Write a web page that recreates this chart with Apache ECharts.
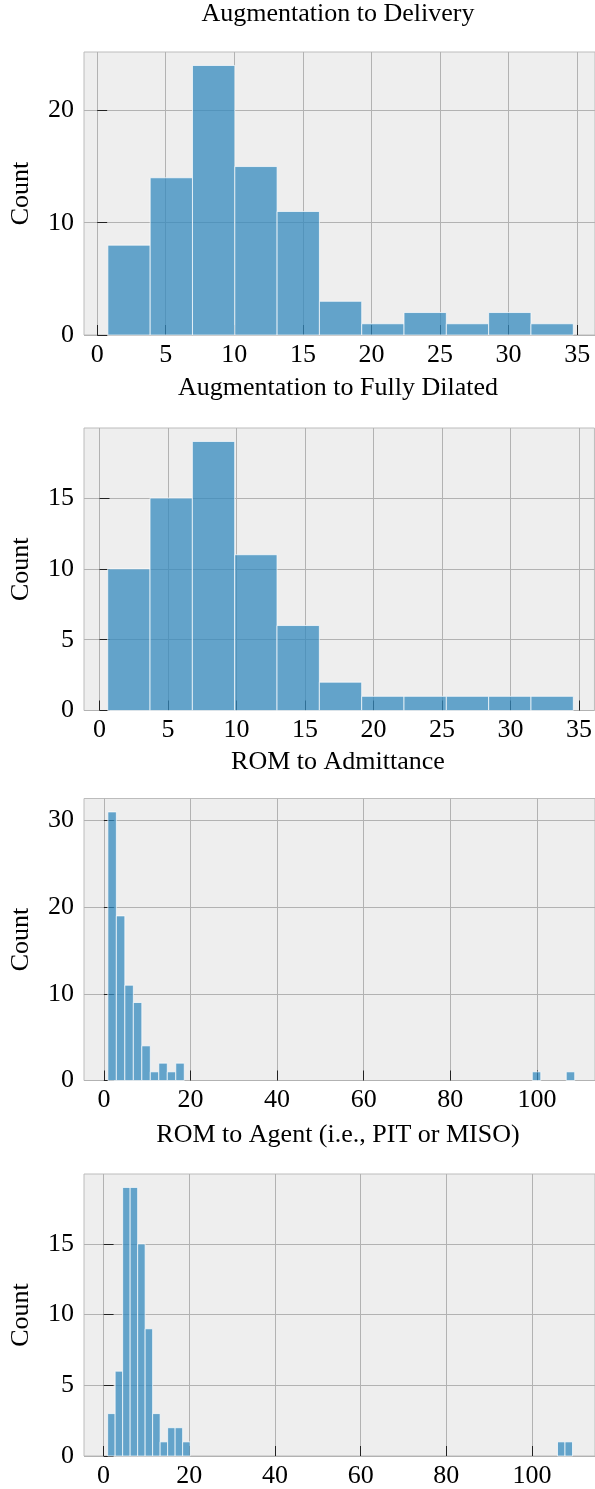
<!DOCTYPE html>
<html>
<head>
<meta charset="utf-8">
<script src="https://cdn.jsdelivr.net/npm/echarts@6/dist/echarts.min.js"></script>
<style>
  html, body { margin: 0; padding: 0; background: #ffffff; }
  #chart { width: 595px; height: 1489px; }
</style>
</head>
<body>
<div id="chart"></div>
<script>
// ---------- data ----------
const panelTitles = [
  "Augmentation to Delivery",
  "Augmentation to Fully Dilated",
  "ROM to Admittance",
  "ROM to Agent (i.e., PIT or MISO)"
];

// Panel 1: Augmentation to Delivery
const p1BinStart = 0.78;
const p1BinWidth = 3.085;
const p1Counts = [8, 14, 24, 15, 11, 3, 1, 2, 1, 2, 1];

// Panel 2: Augmentation to Fully Dilated
const p2BinStart = 0.6;
const p2BinWidth = 3.089;
const p2Counts = [10, 15, 19, 11, 6, 2, 1, 1, 1, 1, 1];

// Panel 3: ROM to Admittance (55 bins)
const p3BinStart = 0.92;
const p3BinWidth = 1.96;
const p3Counts = [31, 19, 11, 9, 4, 1, 2, 1, 2,
  0, 0, 0, 0, 0, 0, 0, 0, 0, 0,
  0, 0, 0, 0, 0, 0, 0, 0, 0, 0,
  0, 0, 0, 0, 0, 0, 0, 0, 0, 0,
  0, 0, 0, 0, 0, 0, 0, 0, 0, 0,
  0,
  1, 0, 0, 0, 1];

// Panel 4: ROM to Agent (62 bins)
const p4BinStart = 0.95;
const p4BinWidth = 1.75;
const p4Counts = [3, 6, 19, 19, 15, 9, 3, 1, 2, 2, 1,
  0, 0, 0, 0, 0, 0, 0, 0, 0, 0,
  0, 0, 0, 0, 0, 0, 0, 0, 0, 0,
  0, 0, 0, 0, 0, 0, 0, 0, 0, 0,
  0, 0, 0, 0, 0, 0, 0, 0, 0, 0,
  0, 0, 0, 0, 0, 0, 0, 0, 0,
  1, 1];

// tick labels
const p1XTicks = [0, 5, 10, 15, 20, 25, 30, 35];
const p2XTicks = [0, 5, 10, 15, 20, 25, 30, 35];
const p3XTicks = [0, 20, 40, 60, 80, 100];
const p4XTicks = [0, 20, 40, 60, 80, 100];
const p1YTicks = [0, 10, 20];
const p2YTicks = [0, 5, 10, 15];
const p3YTicks = [0, 10, 20, 30];
const p4YTicks = [0, 5, 10, 15];

// ---------- layout ----------
const FONT = '"Liberation Serif", "DejaVu Serif", serif';
const FS = 26;
const panels = [
  { starts: p1BinStart, width: p1BinWidth, counts: p1Counts, xTicks: p1XTicks, yTicks: p1YTicks,
    xMin: -0.96, xMax: 36.3, yMax: 25.2, top: 52, height: 283, titleTop: 1 },
  { starts: p2BinStart, width: p2BinWidth, counts: p2Counts, xTicks: p2XTicks, yTicks: p2YTicks,
    xMin: -1.13, xMax: 36.12, yMax: 19.95, top: 428, height: 282.5, titleTop: 375 },
  { starts: p3BinStart, width: p3BinWidth, counts: p3Counts, xTicks: p3XTicks, yTicks: p3YTicks,
    xMin: -4.59, xMax: 113.4, yMax: 32.55, top: 798.5, height: 282, titleTop: 749 },
  { starts: p4BinStart, width: p4BinWidth, counts: p4Counts, xTicks: p4XTicks, yTicks: p4YTicks,
    xMin: -4.57, xMax: 114.7, yMax: 19.95, top: 1174, height: 282, titleTop: 1122 }
];
const GRID_LEFT = 81;
const GRID_WIDTH = 514;

const titles = [], grids = [], xAxes = [], yAxes = [], series = [];
panels.forEach(function (p, i) {
  titles.push({
    text: panelTitles[i],
    left: GRID_LEFT + GRID_WIDTH / 2,
    top: p.titleTop,
    textAlign: 'center',
    padding: 0,
    textStyle: { fontFamily: FONT, fontSize: FS, fontWeight: 'normal', color: '#000' }
  });
  grids.push({
    left: GRID_LEFT, width: GRID_WIDTH, top: p.top, height: p.height,
    show: true, backgroundColor: '#eeeeee', borderColor: '#bcbcbc', borderWidth: 1,
    containLabel: false
  });
  xAxes.push({
    type: 'value', gridIndex: i, min: p.xMin, max: p.xMax,
    axisLine: { show: false },
    axisTick: { show: true, inside: true, length: 10, customValues: p.xTicks,
      lineStyle: { color: '#222', width: 1 } },
    axisLabel: { customValues: p.xTicks, margin: 7, fontFamily: FONT, fontSize: FS, color: '#000' },
    splitLine: { show: true, lineStyle: { color: '#b2b2b2', width: 1 } }
  });
  yAxes.push({
    type: 'value', gridIndex: i, min: 0, max: p.yMax,
    name: 'Count', nameLocation: 'middle', nameGap: 50, nameRotate: 90,
    nameTextStyle: { fontFamily: FONT, fontSize: FS, color: '#000' },
    axisLine: { show: false },
    axisTick: { show: true, inside: true, length: 10, customValues: p.yTicks,
      lineStyle: { color: '#222', width: 1 } },
    axisLabel: { customValues: p.yTicks, margin: 10, fontFamily: FONT, fontSize: FS, color: '#000' },
    splitLine: { show: true, lineStyle: { color: '#b2b2b2', width: 1 } }
  });
  const data = [];
  p.counts.forEach(function (c, k) {
    if (c > 0) data.push([p.starts + k * p.width, p.starts + (k + 1) * p.width, c]);
  });
  series.push({
    type: 'custom', xAxisIndex: i, yAxisIndex: i, data: data, z: 5,
    renderItem: function (params, api) {
      const a = api.coord([api.value(0), 0]);
      const b = api.coord([api.value(1), api.value(2)]);
      return {
        type: 'rect',
        shape: { x: a[0], y: b[1], width: b[0] - a[0], height: a[1] - b[1] },
        style: { fill: 'rgba(52,138,189,0.75)', stroke: 'rgba(255,255,255,0.7)', lineWidth: 1 }
      };
    }
  });
});

const chart = echarts.init(document.getElementById('chart'), null, { renderer: 'canvas' });
chart.setOption({
  animation: false,
  backgroundColor: '#ffffff',
  title: titles,
  grid: grids,
  xAxis: xAxes,
  yAxis: yAxes,
  series: series
});
</script>
</body>
</html>
